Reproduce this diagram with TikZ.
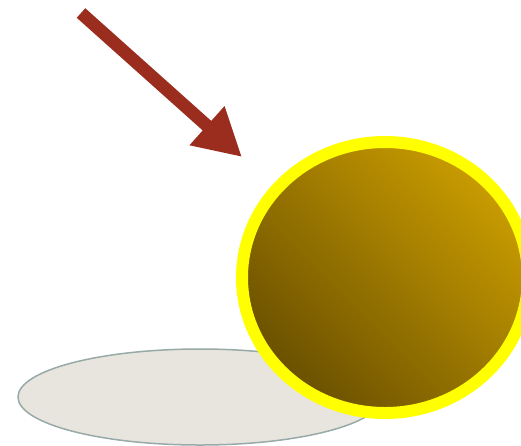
\documentclass[tikz,border=0pt]{standalone}
\usepackage{xcolor}
\usepackage{tikz}
\usetikzlibrary{shapes.geometric, arrows.meta, positioning}
\definecolor{arrowRed}{HTML}{9B2D1F}
\definecolor{ballGold}{HTML}{C99C00}
\definecolor{ballDark}{HTML}{6A5000}
\definecolor{ballRim}{HTML}{FFFF00}
\definecolor{shadowFill}{HTML}{E8E4DE}
\definecolor{shadowLine}{HTML}{98AAA8}

\begin{document}
\begin{tikzpicture}[
    x=1pt, y=-1pt,
    shadowblob/.style={ellipse, draw=shadowLine, line width=1.5pt, fill=shadowFill, minimum width=364pt, minimum height=96pt, inner sep=0pt},
    ball/.style={ellipse, draw=ballRim, line width=12pt, shading=axis, top color=ballGold, bottom color=ballDark, shading angle=-45, minimum width=286pt, minimum height=271pt, inner sep=0pt},
    pointer/.style={arrowRed, line width=12.8pt, -{Triangle[length=47pt, width=49pt]}},
]
    \useasboundingbox (0,0) rectangle (521,445);
    \clip (0,0) rectangle (521,445);

    \node[shadowblob] (shadow) at (200,397) {};
    \node[ball] (sphere) at (385,277.5) {};

    \coordinate (tail) at (81,13);
    \coordinate (tip) at (242,157);
    \draw[pointer] (tail) -- (tip);
\end{tikzpicture}
\end{document}
